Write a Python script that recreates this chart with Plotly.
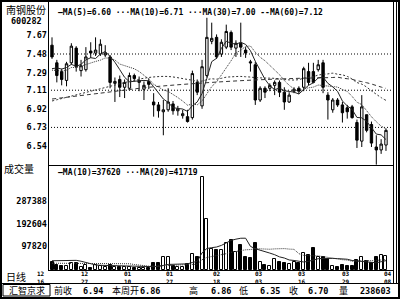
import plotly.graph_objects as go
import pandas as pd

# ---------------- data ----------------
OPEN = [7.57, 7.39, 7.30, 7.21, 7.39, 7.54, 7.31, 7.32, 7.51, 7.49,
        7.48, 7.47, 7.45, 7.18, 7.22, 7.14, 7.13, 7.26, 7.19, 7.12,
        7.20, 6.99, 6.96, 6.89, 6.91, 6.97, 6.90, 6.85, 6.84, 6.83,
        7.19, 6.95, 7.26, 7.61, 7.65, 7.48, 7.55, 7.70, 7.54, 7.59,
        7.52, 7.40, 7.37, 7.01, 7.13, 7.13, 7.16, 7.19, 7.09, 6.99,
        7.10, 7.13, 7.14, 7.30, 7.30, 7.32, 7.39, 7.06, 6.91, 7.01,
        6.96, 6.93, 6.94, 6.78, 6.59, 6.86, 6.76, 6.53, 6.50, 6.55]
HIGH = [7.65, 7.42, 7.33, 7.40, 7.59, 7.56, 7.42, 7.55, 7.60, 7.65,
        7.63, 7.57, 7.47, 7.24, 7.26, 7.22, 7.29, 7.28, 7.25, 7.20,
        7.23, 7.08, 6.99, 7.01, 7.13, 7.00, 6.95, 6.91, 6.91, 7.31,
        7.22, 7.42, 7.85, 7.80, 7.68, 7.63, 7.78, 7.72, 7.62, 7.80,
        7.55, 7.42, 7.40, 7.15, 7.15, 7.18, 7.21, 7.21, 7.14, 7.09,
        7.14, 7.15, 7.35, 7.39, 7.39, 7.42, 7.42, 7.09, 7.03, 7.03,
        6.99, 6.96, 6.96, 6.81, 7.06, 6.86, 6.79, 6.65, 6.61, 6.72]
LOW = [7.43, 7.19, 7.16, 7.15, 7.37, 7.30, 7.25, 7.30, 7.44, 7.46,
       7.46, 7.45, 7.13, 6.99, 7.04, 7.03, 7.11, 7.20, 7.10, 7.01,
       7.12, 6.84, 6.83, 6.65, 6.89, 6.86, 6.85, 6.82, 6.78, 6.81,
       7.06, 6.92, 7.24, 7.58, 7.43, 7.45, 7.53, 7.52, 7.45, 7.45,
       7.44, 7.30, 6.96, 6.99, 7.03, 7.10, 7.06, 7.04, 6.91, 6.98,
       7.08, 7.07, 7.10, 7.16, 7.18, 7.30, 7.08, 6.81, 6.88, 6.94,
       6.78, 6.82, 6.82, 6.52, 6.53, 6.68, 6.53, 6.35, 6.46, 6.49]
CLOSE = [7.45, 7.26, 7.22, 7.38, 7.56, 7.35, 7.36, 7.45, 7.49, 7.52,
         7.58, 7.49, 7.19, 7.20, 7.14, 7.19, 7.26, 7.23, 7.21, 7.16,
         7.17, 6.96, 6.90, 6.91, 6.99, 6.90, 6.92, 6.87, 6.79, 7.28,
         7.09, 7.35, 7.65, 7.64, 7.45, 7.60, 7.71, 7.55, 7.59, 7.55,
         7.49, 7.39, 7.01, 7.13, 7.09, 7.16, 7.19, 7.09, 6.99, 7.06,
         7.12, 7.10, 7.33, 7.19, 7.19, 7.37, 7.14, 7.01, 7.01, 6.96,
         6.88, 6.89, 6.83, 6.60, 6.94, 6.70, 6.57, 6.50, 6.56, 6.70]
VOLUME = [32000, 21000, 17000, 17000, 30000, 28000, 14000, 20000, 10000, 22000,
          16000, 14000, 20000, 12000, 13000, 12000, 14000, 10000, 9000, 10000,
          9000, 30000, 30000, 53000, 55000, 17000, 14000, 14000, 24000, 66000,
          53000, 387000, 210000, 86000, 83000, 83000, 111000, 124000, 76000, 104000,
          55000, 48500, 111000, 34000, 21000, 17000, 44000, 34000, 28000, 24000,
          34000, 28000, 69000, 62000, 90000, 55000, 55000, 47000, 17000, 14000,
          21000, 17000, 17000, 41000, 53000, 36000, 27000, 55000, 62000, 58000]
PRE_CLOSE = [7.28, 7.32, 7.25, 7.30, 7.35, 7.22, 7.28, 7.30, 7.40]
PRE_VOLUME = [22000, 15000, 18000, 25000, 16000, 14000, 20000, 17000, 15000, 18000,
              20000, 16000, 18000, 22000, 20000, 50000, 70000, 65000, 70000]
MA30_EARLY_IDX = [0, 4, 8, 12, 16, 20, 24, 28]
MA30_EARLY_VAL = [7.00, 7.05, 7.10, 7.15, 7.20, 7.24, 7.25, 7.22]
MA60_EARLY_IDX = [0, 10, 20, 30, 40, 50, 58]
MA60_EARLY_VAL = [7.02, 7.08, 7.14, 7.18, 7.21, 7.23, 7.24]

PRICE_TICKS = [7.67, 7.48, 7.29, 7.11, 6.92, 6.73, 6.54]
PRICE_GRID = [7.48, 7.11, 6.73]
VOL_TICKS = [287388, 192604, 97820]
DATE_MONTH = ["12", "12", "01", "01", "02", "03", "03", "03", "04"]
DATE_DAY = ["16", "27", "10", "27", "18", "03", "16", "29", "08"]
DATE_POS = [-2.3, 6.8, 15.7, 24.4, 34.0, 42.8, 51.6, 60.7, 69.4]

PRICE_LEGEND = "—MA(5)=6.60 ···MA(10)=6.71 ···MA(30)=7.00 --MA(60)=7.12"
VOL_LEGEND = "—MA(10)=37620 ···MA(20)=41719"
BOTTOM_ITEMS = [("前收", "left", 53, "cjk"), ("6.94", "right", 104, "num"),
                ("本周开", "left", 111, "cjk"), ("6.86", "right", 161, "num"),
                ("高", "left", 188, "cjk"), ("6.86", "right", 232, "num"),
                ("低", "left", 238, "cjk"), ("6.35", "right", 281, "num"),
                ("收", "left", 288, "cjk"), ("6.70", "right", 329, "num"),
                ("量", "left", 338, "cjk"), ("238603", "right", 392, "num")]

# ---------------- derived series ----------------
N = len(CLOSE)
idx = list(range(N))
closes_all = pd.Series(PRE_CLOSE + CLOSE)
ma5 = closes_all.rolling(5).mean().iloc[len(PRE_CLOSE):].tolist()
ma10 = closes_all.rolling(10).mean().iloc[len(PRE_CLOSE):].tolist()
cs = pd.Series(CLOSE)
ma30_full = cs.rolling(30).mean()
ma60_full = cs.rolling(60).mean()
ma30_x = MA30_EARLY_IDX + list(range(29, N))
ma30_y = MA30_EARLY_VAL + ma30_full.iloc[29:].tolist()
ma60_x = MA60_EARLY_IDX + list(range(59, N))
ma60_y = MA60_EARLY_VAL + ma60_full.iloc[59:].tolist()
vols_all = pd.Series(PRE_VOLUME + VOLUME)
vma10 = vols_all.rolling(10).mean().iloc[len(PRE_VOLUME):].tolist()
vma20 = vols_all.rolling(20).mean().iloc[len(PRE_VOLUME):].tolist()
vcolors = ["white" if c >= o else "black" for o, c in zip(OPEN, CLOSE)]

# ---------------- geometry ----------------
W, H = 400, 300
ML, MR, MT, MB = 48, 7, 2, 30
PW, PH = W - ML - MR, H - MT - MB
XMIN, XMAX = -0.826, 70.45


def px(x):
    return (x - ML) / PW


def py(y):
    return (H - MB - y) / PH


def ix(i):
    return (i - XMIN) / (XMAX - XMIN)


MONO = "DejaVu Sans Mono"
CJK = "Noto Sans CJK SC"
numfont = dict(family=MONO, size=8.5, color="black", weight="bold")
datefont = dict(family=MONO, size=6, color="black", weight="bold")
cjkfont = dict(family=CJK, size=10, color="black")
cjkfont_s = dict(family=CJK, size=9, color="black")

fig = go.Figure()
fig.add_trace(go.Candlestick(
    x=idx, open=OPEN, high=HIGH, low=LOW, close=CLOSE,
    increasing=dict(line=dict(color="black", width=1), fillcolor="white"),
    decreasing=dict(line=dict(color="black", width=1), fillcolor="black"),
    whiskerwidth=0, xaxis="x", yaxis="y", showlegend=False, hoverinfo="skip"))
fig.add_trace(go.Scatter(x=idx, y=ma5, mode="lines", line=dict(color="#222", width=1),
                         xaxis="x", yaxis="y", showlegend=False, hoverinfo="skip"))
fig.add_trace(go.Scatter(x=idx, y=ma10, mode="lines",
                         line=dict(color="#333", width=1, dash="1px,1px"),
                         xaxis="x", yaxis="y", showlegend=False, hoverinfo="skip"))
fig.add_trace(go.Scatter(x=ma30_x, y=ma30_y, mode="lines",
                         line=dict(color="#333", width=1, dash="2px,2px", shape="spline"),
                         xaxis="x", yaxis="y", showlegend=False, hoverinfo="skip"))
fig.add_trace(go.Scatter(x=ma60_x, y=ma60_y, mode="lines",
                         line=dict(color="#333", width=1, dash="4px,3px", shape="spline"),
                         xaxis="x", yaxis="y", showlegend=False, hoverinfo="skip"))
fig.add_trace(go.Bar(x=idx, y=VOLUME, width=0.62,
                     marker=dict(color=vcolors, line=dict(color="black", width=1)),
                     xaxis="x2", yaxis="y2", showlegend=False, hoverinfo="skip"))
fig.add_trace(go.Scatter(x=idx, y=vma10, mode="lines", line=dict(color="#222", width=1),
                         xaxis="x2", yaxis="y2", showlegend=False, hoverinfo="skip"))
fig.add_trace(go.Scatter(x=idx, y=vma20, mode="lines",
                         line=dict(color="#333", width=1, dash="1px,1px"),
                         xaxis="x2", yaxis="y2", showlegend=False, hoverinfo="skip"))

shapes = []
for g in PRICE_GRID:
    shapes.append(dict(type="line", xref="paper", yref="y", x0=0, x1=1, y0=g, y1=g,
                       line=dict(color="black", width=1, dash="1px,2px"), layer="below"))


def hline(y, x0, x1, w=1):
    shapes.append(dict(type="line", xref="paper", yref="paper", x0=px(x0), x1=px(x1),
                       y0=py(y), y1=py(y), line=dict(color="black", width=w)))


def vline(x, y0, y1, w=1):
    shapes.append(dict(type="line", xref="paper", yref="paper", x0=px(x), x1=px(x),
                       y0=py(y0), y1=py(y1), line=dict(color="black", width=w)))


hline(165.5, 48, 393.5)
hline(270.5, 48, 393.5)
hline(283.5, 0, 400)
vline(48.5, 0, 270.5)
vline(393.5, 0, 283.5)
vline(396.5, 0, 283.5)
shapes.append(dict(type="rect", xref="paper", yref="paper", x0=px(1), x1=px(399),
                   y0=py(298), y1=py(1), line=dict(color="black", width=2)))
shapes.append(dict(type="rect", xref="paper", yref="paper", x0=px(3), x1=px(50),
                   y0=py(296), y1=py(284.5), line=dict(color="black", width=1)))

ann = []


def text(t, x, y, font, xanchor="left", yanchor="middle"):
    ann.append(dict(text=t, x=px(x), y=py(y), xref="paper", yref="paper",
                    xanchor=xanchor, yanchor=yanchor, showarrow=False, font=font,
                    borderpad=0))


text("南钢股份", 26, 10, cjkfont, "center")
text("600282", 26, 21.5, numfont, "center")
text(PRICE_LEGEND, 57, 13, dict(family=MONO, size=8, color="black", weight="bold"))
text("成交量", 3, 168, cjkfont)
text(VOL_LEGEND, 57, 172.5, dict(family=MONO, size=8, color="black", weight="bold"))
text("日线", 5, 276.5, cjkfont)
text("汇智京求", 26.5, 290.5, cjkfont_s, "center")
for t, anc, x, kind in BOTTOM_ITEMS:
    text(t, x, 290.5, cjkfont_s if kind == "cjk" else numfont, anc)
for m, d, p in zip(DATE_MONTH, DATE_DAY, DATE_POS):
    ann.append(dict(text=m + "<br>" + d, x=ix(p), y=py(277), xref="paper", yref="paper",
                    xanchor="center", yanchor="middle", showarrow=False, font=datefont,
                    borderpad=0))

fig.update_layout(
    width=W, height=H, margin=dict(l=ML, r=MR, t=MT, b=MB, pad=0),
    paper_bgcolor="white", plot_bgcolor="white", showlegend=False,
    bargap=0, shapes=shapes, annotations=ann,
    xaxis=dict(domain=[0, 1], range=[XMIN, XMAX], anchor="y", showticklabels=False,
               showgrid=False, zeroline=False, showline=False, ticks="",
               rangeslider=dict(visible=False), fixedrange=True),
    yaxis=dict(domain=[py(165), 1], range=[6.3462, 8.0111], tickvals=PRICE_TICKS,
               ticktext=[f"{v:.2f}" for v in PRICE_TICKS], ticks="", showgrid=False,
               zeroline=False, showline=False, tickfont=numfont, fixedrange=True),
    xaxis2=dict(domain=[0, 1], range=[XMIN, XMAX], anchor="y2", showticklabels=False,
                showgrid=False, zeroline=False, showline=False, ticks="", fixedrange=True),
    yaxis2=dict(domain=[0, py(166)], range=[0, 431300], tickvals=VOL_TICKS,
                ticktext=[str(v) for v in VOL_TICKS], ticks="", showgrid=False,
                zeroline=False, showline=False, tickfont=numfont, fixedrange=True),
)
fig.write_html("out.html")
